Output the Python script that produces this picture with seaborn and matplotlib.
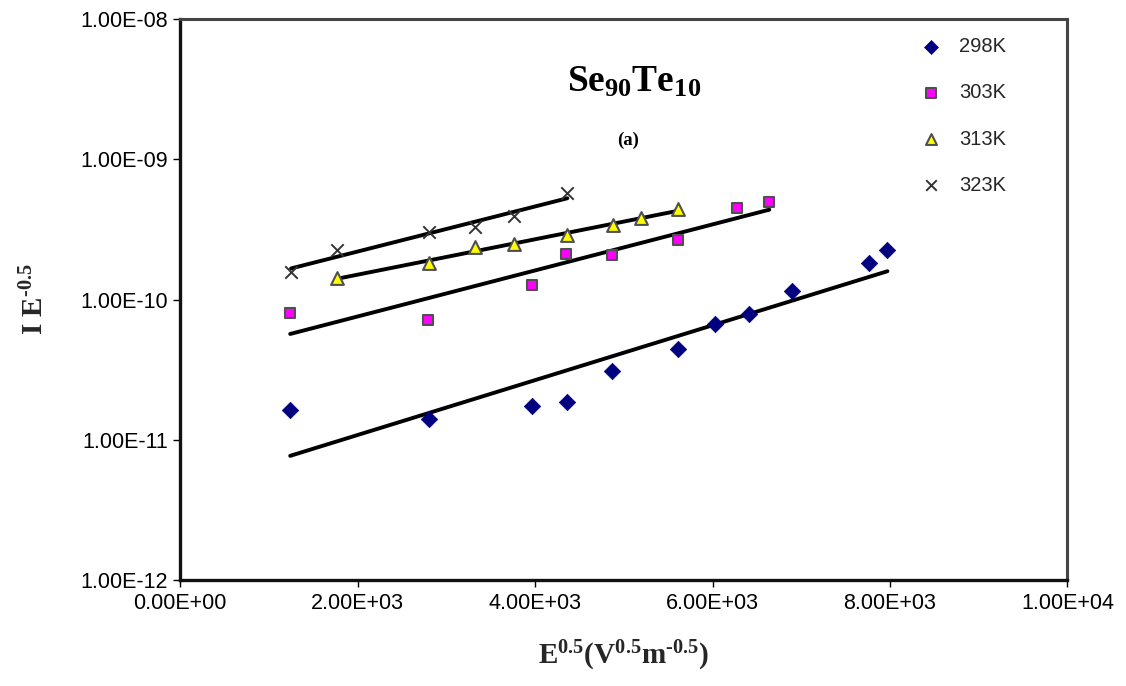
import numpy as np
import pandas as pd
import matplotlib
matplotlib.use("Agg")
import matplotlib.pyplot as plt
import seaborn as sns
from matplotlib.ticker import FuncFormatter, FixedLocator

# E^0.5 values and I*E^-0.5 values
x_298 = [1240, 2807, 3969, 4363, 4870, 5614, 6032, 6415, 6900, 7768, 7971]
y_298 = [1.63e-11, 1.41e-11, 1.74e-11, 1.86e-11, 3.09e-11, 4.44e-11,
         6.69e-11, 7.88e-11, 1.15e-10, 1.82e-10, 2.25e-10]

x_303 = [1240, 2796, 3969, 4352, 4870, 5614, 6280, 6640]
y_303 = [8.01e-11, 7.14e-11, 1.27e-10, 2.11e-10, 2.08e-10, 2.66e-10,
         4.49e-10, 4.95e-10]

x_313 = [1770, 2807, 3326, 3766, 4363, 4882, 5197, 5614]
y_313 = [1.42e-10, 1.82e-10, 2.37e-10, 2.49e-10, 2.88e-10, 3.40e-10,
         3.81e-10, 4.42e-10]

x_323 = [1250, 1770, 2807, 3326, 3766, 4363]
y_323 = [1.57e-10, 2.25e-10, 3.03e-10, 3.29e-10, 3.94e-10, 5.74e-10]

labels = ["298K", "303K", "313K", "323K"]
xticks = [0, 2000, 4000, 6000, 8000, 10000]
yticks = [1e-12, 1e-11, 1e-10, 1e-9, 1e-8]

sns.set_style("ticks")
plt.rcParams["font.family"] = ["Liberation Sans", "DejaVu Sans"]
plt.rcParams["mathtext.fontset"] = "custom"
plt.rcParams["mathtext.rm"] = "Liberation Serif:bold"
plt.rcParams["mathtext.bf"] = "Liberation Serif:bold"
plt.rcParams["mathtext.it"] = "Liberation Serif:bold"

fig = plt.figure(figsize=(11.26, 6.86), dpi=100)
ax = fig.add_axes([0.160, 0.1545, 0.788, 0.8178])

series = [
    (x_298, y_298, dict(marker="D", s=70, color="#000080", edgecolor="#000080", linewidth=0.5)),
    (x_303, y_303, dict(marker="s", s=62, color="#ff00ff", edgecolor="#505050", linewidth=1.5)),
    (x_313, y_313, dict(marker="^", s=85, color="#ffff00", edgecolor="#505050", linewidth=1.5)),
    (x_323, y_323, dict(marker="x", s=80, color="#333333", linewidth=1.4)),
]

for (xs, ys, kw), lab in zip(series, labels):
    df = pd.DataFrame({"x": xs, "y": ys})
    # exponential trendline (least squares on log10)
    k, b = np.polyfit(df["x"], np.log10(df["y"]), 1)
    fx = np.linspace(df["x"].min(), df["x"].max(), 60)
    fit = pd.DataFrame({"x": fx, "y": 10 ** (k * fx + b)})
    sns.lineplot(data=fit, x="x", y="y", ax=ax, color="black", linewidth=2.8, zorder=2)
    sns.scatterplot(data=df, x="x", y="y", ax=ax, zorder=3, label=lab, **kw)

ax.set_yscale("log")
ax.set_xlim(0, 10000)
ax.set_ylim(1e-12, 1e-8)
ax.xaxis.set_major_locator(FixedLocator(xticks))
ax.yaxis.set_major_locator(FixedLocator(yticks))
ax.yaxis.set_minor_locator(FixedLocator([]))
ax.xaxis.set_major_formatter(FuncFormatter(lambda v, p: f"{v:.2E}"))
ax.yaxis.set_major_formatter(FuncFormatter(lambda v, p: f"{v:.2E}"))
ax.tick_params(axis="both", which="major", direction="out", length=5, width=1,
               labelsize=15.5, colors="black", pad=4)

for side in ["left", "bottom"]:
    ax.spines[side].set_linewidth(2.4)
    ax.spines[side].set_color("#111111")
for side in ["top", "right"]:
    ax.spines[side].set_linewidth(2.2)
    ax.spines[side].set_color("#444444")

ax.set_xlabel(r"E$^{\mathbf{0.5}}$(V$^{\mathbf{0.5}}$m$^{\text{-}\mathbf{0.5}}$)",
              fontsize=21, fontweight="bold", family="Liberation Serif", labelpad=18)
ax.set_ylabel(r"I E$^{\text{-}\mathbf{0.5}}$", fontsize=21, fontweight="bold",
              family="Liberation Serif", labelpad=22)

ax.text(0.512, 0.888, r"Se$_{\mathbf{90}}$Te$_{\mathbf{10}}$", transform=ax.transAxes,
        ha="center", va="center", fontsize=27, fontweight="bold", family="Liberation Serif",
        color="black")
ax.text(0.505, 0.784, "(a)", transform=ax.transAxes, ha="center", va="center",
        fontsize=13.5, fontweight="bold", family="Liberation Serif", color="black")

ax.legend(loc="upper left", bbox_to_anchor=(0.803, 1.0), frameon=False,
          fontsize=14.5, labelspacing=1.35, handletextpad=0.4, markerscale=0.85)

fig.savefig("out.png", dpi=100)
